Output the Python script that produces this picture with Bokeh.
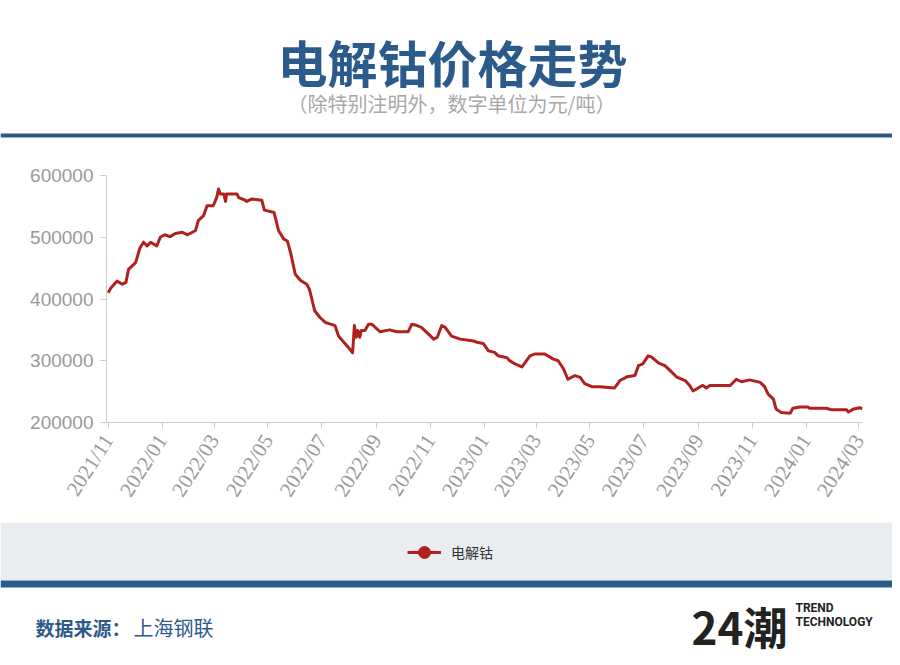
from datetime import datetime
import pandas as pd
from bokeh.plotting import figure
from bokeh.models import (Range1d, FixedTicker, Label, BoxAnnotation, Legend, LegendItem,
                          BasicTickFormatter, ColumnDataSource)
from bokeh.embed import file_html
from bokeh.resources import INLINE

# ---------------- data ----------------
dates = [
    "2021-11-01", "2021-11-04", "2021-11-11", "2021-11-17", "2021-11-21", "2021-11-24",
    "2021-12-02", "2021-12-07", "2021-12-11", "2021-12-15", "2021-12-19", "2021-12-26",
    "2021-12-30", "2022-01-04", "2022-01-10", "2022-01-16", "2022-01-24", "2022-01-30",
    "2022-02-08", "2022-02-11", "2022-02-17", "2022-02-21", "2022-02-28", "2022-03-04",
    "2022-03-06", "2022-03-08", "2022-03-12", "2022-03-14", "2022-03-15", "2022-03-27",
    "2022-03-29", "2022-04-05", "2022-04-07", "2022-04-13", "2022-04-24", "2022-04-27",
    "2022-05-08", "2022-05-13", "2022-05-19", "2022-05-23", "2022-05-27", "2022-06-01",
    "2022-06-07", "2022-06-14", "2022-06-17", "2022-06-23", "2022-06-29", "2022-07-05",
    "2022-07-12", "2022-07-16", "2022-07-20", "2022-07-26", "2022-07-31", "2022-08-05",
    "2022-08-07", "2022-08-09", "2022-08-11", "2022-08-13", "2022-08-15", "2022-08-19",
    "2022-08-23", "2022-08-27", "2022-09-05", "2022-09-16", "2022-09-24", "2022-10-07",
    "2022-10-11", "2022-10-17", "2022-10-22", "2022-10-30", "2022-11-05", "2022-11-09",
    "2022-11-14", "2022-11-18", "2022-11-25", "2022-12-05", "2022-12-20", "2022-12-24",
    "2022-12-31", "2023-01-06", "2023-01-13", "2023-01-17", "2023-01-27", "2023-01-30",
    "2023-02-05", "2023-02-13", "2023-02-22", "2023-02-28", "2023-03-11", "2023-03-20",
    "2023-03-26", "2023-04-01", "2023-04-06", "2023-04-14", "2023-04-20", "2023-04-25",
    "2023-05-03", "2023-05-12", "2023-05-29", "2023-06-04", "2023-06-12", "2023-06-21",
    "2023-06-25", "2023-06-30", "2023-07-06", "2023-07-10", "2023-07-18", "2023-07-25",
    "2023-07-31", "2023-08-07", "2023-08-17", "2023-08-22", "2023-08-26", "2023-09-03",
    "2023-09-06", "2023-09-10", "2023-09-14", "2023-10-07", "2023-10-14", "2023-10-20",
    "2023-10-29", "2023-11-10", "2023-11-15", "2023-11-19", "2023-11-25", "2023-11-28",
    "2023-12-04", "2023-12-14", "2023-12-17", "2023-12-25", "2024-01-03", "2024-01-05",
    "2024-01-24", "2024-01-30", "2024-02-16", "2024-02-18", "2024-02-24", "2024-03-02",
    "2024-03-05",
]
prices = [
    410000, 418000, 429000, 424000, 427000, 448000,
    459000, 483000, 492000, 486000, 492000, 486000,
    500000, 504000, 501000, 506000, 508000, 504000,
    511000, 527000, 535000, 551000, 551000, 565000,
    578000, 570000, 570000, 558000, 570000, 570000,
    564000, 560000, 558000, 562000, 560000, 544000,
    540000, 511000, 497000, 494000, 473000, 440000,
    430000, 424000, 416000, 381000, 370000, 362000,
    359000, 357000, 340000, 330000, 322000, 313000,
    357000, 338000, 349000, 338000, 349000, 349000,
    359000, 359000, 347000, 350000, 347000, 347000,
    359000, 357000, 354000, 343000, 335000, 338000,
    357000, 354000, 340000, 335000, 332000, 330000,
    328000, 316000, 313500, 308000, 305000, 300000,
    295000, 290000, 308000, 311000, 311000, 303000,
    300000, 287000, 270000, 276000, 273000, 263000,
    258000, 258000, 256000, 268000, 274000, 276000,
    292000, 295000, 308000, 306000, 296000, 292000,
    284000, 274000, 268000, 260000, 251000, 258000,
    260000, 256000, 260000, 260000, 270000, 266000,
    269000, 265000, 258000, 246000, 238000, 222000,
    216000, 215000, 223000, 225000, 225000, 223000,
    223000, 220500, 220500, 217000, 222000, 224000,
    222000,
]
series_name = "电解钴"
y_ticks = [200000, 300000, 400000, 500000, 600000]
x_tick_labels = ["2021/11", "2022/01", "2022/03", "2022/05", "2022/07", "2022/09", "2022/11",
                 "2023/01", "2023/03", "2023/05", "2023/07", "2023/09", "2023/11",
                 "2024/01", "2024/03"]

title_text = "电解钴价格走势"
subtitle_text = "（除特别注明外，数字单位为元/吨）"
source_bold = "数据来源："
source_text = "上海钢联"

BLUE = "#2b5b8b"
RED = "#b0211d"
CJK = "Noto Sans CJK SC"
W = 892

x_dt = pd.to_datetime(dates)
tick_dt = [datetime.strptime(s, "%Y/%m") for s in x_tick_labels]
tick_ms = [pd.Timestamp(t).value / 1e6 for t in tick_dt]

src = ColumnDataSource(data=dict(x=x_dt, y=prices))


def deco_fig(h):
    f = figure(width=W, height=h, x_range=Range1d(0, W), y_range=Range1d(0, h),
               x_axis_location=None, y_axis_location=None,
               output_backend="svg", toolbar_location=None, min_border=0)
    f.grid.visible = False
    f.outline_line_color = None
    return f


def label(f, x, y, text, size, color, font=CJK, style="normal", align="left"):
    f.add_layout(Label(x=x, y=y, text=text, text_font=font, text_font_size=size,
                       text_font_style=style, text_color=color, text_align=align,
                       text_baseline="middle"))


def band(f, bottom, top, color):
    f.add_layout(BoxAnnotation(left=0, right=W, bottom=bottom, top=top,
                               fill_color=color, fill_alpha=1, line_alpha=0))


# ---------------- header ----------------
H1 = 150
head = deco_fig(H1)
label(head, 452, H1 - 60, title_text, "50px", BLUE, style="bold", align="center")
label(head, 451, H1 - 103, subtitle_text, "20px", "#a8a8a8", align="center")
band(head, H1 - 137, H1 - 133, BLUE)

# ---------------- main chart ----------------
p = figure(width=W, height=372, x_axis_type="datetime",
           x_range=Range1d(datetime(2021, 10, 30), datetime(2024, 3, 5)),
           y_range=Range1d(200000, 600000),
           min_border_left=106, min_border_right=30, min_border_top=25, min_border_bottom=100,
           output_backend="svg", toolbar_location=None)
p.grid.visible = False
p.outline_line_color = None
p.line("x", "y", source=src, line_color=RED, line_width=3, line_join="round")

ya = p.yaxis[0]
ya.ticker = FixedTicker(ticks=y_ticks)
ya.formatter = BasicTickFormatter(use_scientific=False)
ya.axis_line_color = "#cccccc"
ya.major_tick_line_color = "#cccccc"
ya.major_tick_out = 6
ya.major_tick_in = 0
ya.minor_tick_line_color = None
ya.major_label_text_color = "#999999"
ya.major_label_text_font = "Liberation Sans"
ya.major_label_text_font_size = "19px"
ya.major_label_standoff = 7

xa = p.xaxis[0]
xa.ticker = FixedTicker(ticks=tick_ms)
xa.major_label_overrides = {t: lab for t, lab in zip(tick_ms, x_tick_labels)}
xa.axis_line_color = "#cccccc"
xa.major_tick_line_color = "#cccccc"
xa.major_tick_out = 6
xa.major_tick_in = 0
xa.minor_tick_line_color = None
xa.major_label_text_color = "#999999"
xa.major_label_text_font = "Liberation Serif"
xa.major_label_text_font_size = "21px"
xa.major_label_orientation = 1.0
xa.major_label_standoff = 8

# ---------------- footer ----------------
H3 = 135
foot = deco_fig(H3)
band(foot, H3 - 58, H3, "#e9edf1")
band(foot, H3 - 65, H3 - 58, BLUE)

# legend key renderers share the series source; its dates lie far outside this
# panel's pixel range, so only the legend glyph is visible here
k_line = foot.line("x", "y", source=src, line_color=RED, line_width=3)
k_mark = foot.scatter("x", "y", source=src, marker="circle", size=13,
                      fill_color=RED, line_color=RED)
leg = Legend(items=[LegendItem(label=series_name, renderers=[k_line, k_mark])],
             location=(407, H3 - 45), orientation="horizontal",
             background_fill_alpha=0, border_line_alpha=0,
             padding=0, margin=0, spacing=0, glyph_width=34, glyph_height=30,
             label_height=30, label_standoff=10, label_text_font=CJK,
             label_text_font_size="14px", label_text_color="#333333")
foot.add_layout(leg)

label(foot, 35, H3 - 105, source_bold, "19px", BLUE, style="bold")
label(foot, 133, H3 - 105, source_text, "20px", BLUE)
label(foot, 691, H3 - 103, "24潮", "44px", "#222222", style="bold")
label(foot, 795, H3 - 85, "TREND", "12px", "#222222", font="Roboto", style="bold")
label(foot, 795, H3 - 99, "TECHNOLOGY", "12px", "#222222", font="Roboto", style="bold")

open("out.html", "w").write(file_html([head, p, foot], INLINE))
